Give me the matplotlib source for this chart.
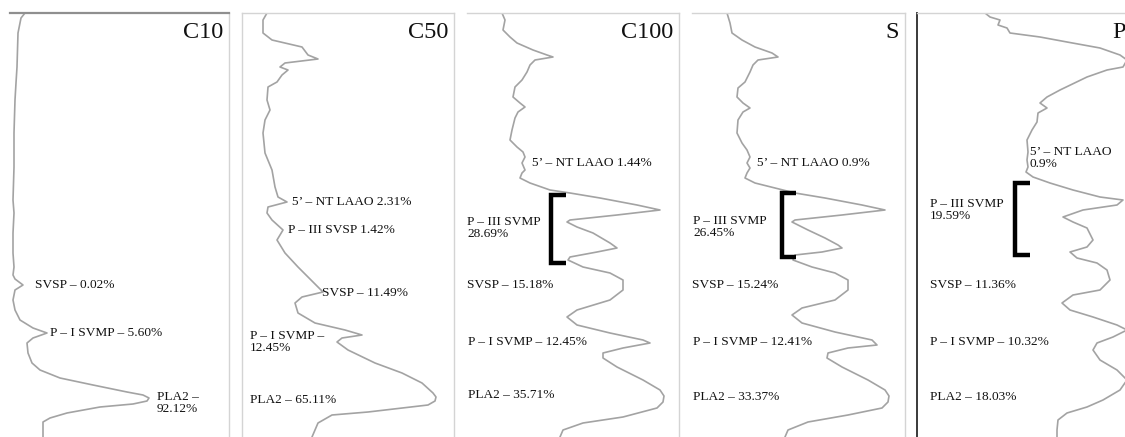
import matplotlib
matplotlib.use('Agg')
import matplotlib.pyplot as plt

plt.rcParams['font.family'] = ['Liberation Serif', 'DejaVu Serif']

# densitometry traces: intensity (px from lane edge) vs migration (px from top)
c10_intensity = [15, 11, 8, 7, 6, 5, 4, 4, 3, 4, 3, 3, 4, 3, 5, 13, 5, 3, 5, 10, 23, 37, 23, 17, 18, 22,
                 30, 50, 83, 117, 133, 139, 137, 123, 90, 57, 40, 33, 33]
c10_migration = [0, 5, 20, 54, 70, 87, 120, 154, 187, 200, 220, 240, 254, 262, 266, 272, 277, 287, 297, 307,
                 315, 320, 325, 330, 340, 350, 357, 365, 372, 379, 382, 385, 388, 391, 394, 400, 405, 409, 424]

c50_intensity = [25, 21, 21, 30, 60, 66, 76, 43, 38, 46, 40, 35, 26, 25, 28, 23, 21, 23, 30, 33, 36, 45, 26,
                 25, 30, 41, 35, 43, 56, 66, 76, 81, 60, 53, 56, 73, 103, 120, 100, 95, 106, 133, 160, 180,
                 191, 194, 193, 186, 126, 90, 76, 70]
c50_migration = [0, 7, 20, 27, 34, 42, 46, 50, 54, 57, 62, 69, 74, 87, 97, 107, 120, 140, 157, 174, 184, 189,
                 194, 200, 207, 217, 227, 240, 254, 264, 274, 279, 284, 290, 300, 310, 317, 322, 325, 329,
                 337, 350, 360, 370, 380, 384, 388, 392, 399, 402, 410, 424]

c100_intensity = [35, 38, 36, 43, 50, 66, 80, 86, 68, 63, 60, 55, 48, 46, 53, 58, 51, 48, 45, 43, 50, 56, 58,
                  55, 58, 55, 53, 63, 83, 103, 133, 170, 193, 150, 103, 100, 110, 126, 143, 150, 130, 103,
                  101, 116, 143, 156, 156, 143, 110, 100, 110, 143, 176, 183, 156, 136, 136, 150, 176, 193,
                  197, 196, 190, 156, 116, 96, 93]
c100_migration = [0, 7, 17, 24, 30, 37, 42, 44, 47, 52, 59, 67, 74, 84, 90, 94, 99, 105, 117, 127, 134, 139,
                  144, 150, 157, 160, 165, 170, 177, 180, 185, 192, 197, 202, 207, 209, 214, 220, 230, 235,
                  239, 244, 247, 254, 260, 267, 277, 287, 297, 304, 312, 320, 327, 330, 335, 340, 345, 354,
                  367, 377, 383, 389, 395, 404, 410, 417, 424]

s_intensity = [35, 38, 40, 50, 63, 80, 86, 66, 61, 58, 53, 46, 45, 51, 58, 51, 46, 45, 50, 55, 58, 55, 58,
               55, 53, 63, 83, 103, 133, 170, 193, 150, 103, 100, 116, 133, 146, 150, 130, 103, 101, 120,
               143, 156, 156, 143, 110, 100, 110, 143, 180, 185, 156, 136, 135, 150, 176, 193, 197, 196,
               190, 156, 116, 96, 93]
s_migration = [0, 10, 20, 27, 34, 40, 44, 47, 52, 59, 69, 75, 84, 90, 95, 99, 107, 120, 130, 137, 144, 150,
               155, 160, 165, 170, 175, 180, 185, 192, 197, 202, 207, 209, 217, 225, 232, 235, 239, 242,
               247, 254, 260, 267, 277, 287, 295, 302, 310, 319, 327, 332, 335, 340, 345, 354, 367, 377,
               383, 389, 395, 402, 409, 417, 424]

p_intensity = [68, 73, 83, 81, 90, 93, 123, 150, 183, 203, 210, 206, 190, 170, 143, 130, 123, 130, 121, 120,
               115, 110, 111, 110, 111, 109, 116, 133, 156, 183, 206, 200, 166, 146, 156, 170, 176, 170,
               153, 160, 180, 190, 193, 183, 156, 145, 153, 176, 200, 210, 196, 180, 176, 183, 200, 210,
               203, 186, 170, 150, 141, 140, 140]
p_migration = [0, 4, 7, 12, 15, 20, 24, 29, 35, 42, 47, 54, 57, 64, 77, 84, 90, 95, 100, 109, 117, 127, 139,
               147, 154, 159, 164, 170, 177, 184, 187, 192, 197, 204, 209, 215, 227, 234, 239, 245, 250,
               257, 267, 277, 282, 290, 297, 304, 312, 317, 324, 330, 337, 347, 357, 367, 377, 387, 394,
               400, 407, 417, 424]

lanes = ['C10', 'C50', 'C100', 'S', 'P']

c10_labels = ['SVSP – 0.02%', 'P – I SVMP – 5.60%', 'PLA2 –\n92.12%']
c50_labels = ['5’ – NT LAAO 2.31%', 'P – III SVSP 1.42%', 'SVSP – 11.49%', 'P – I SVMP –\n12.45%',
              'PLA2 – 65.11%']
c100_labels = ['5’ – NT LAAO 1.44%', 'P – III SVMP\n28.69%', 'SVSP – 15.18%', 'P – I SVMP – 12.45%',
               'PLA2 – 35.71%']
s_labels = ['5’ – NT LAAO 0.9%', 'P – III SVMP\n26.45%', 'SVSP – 15.24%', 'P – I SVMP – 12.41%',
            'PLA2 – 33.37%']
p_labels = ['5’ – NT LAAO\n0.9%', 'P – III SVMP\n19.59%', 'SVSP – 11.36%', 'P – I SVMP – 10.32%',
            'PLA2 – 18.03%']

# layout (pixels in a 1125 x 437 canvas)
W, H, TOP = 1125, 437, 13
panel_x = [(10, 229), (242, 454), (467, 679), (692, 905), (917, 1125)]
label_pos = [
    [(25, 272), (40, 320), (147, 390)],
    [(50, 189), (46, 217), (80, 280), (8, 329), (8, 387)],
    [(65, 150), (0, 215), (0, 272), (1, 329), (1, 382)],
    [(65, 150), (1, 214), (0, 272), (1, 329), (1, 384)],
    [(113, 145), (13, 197), (13, 272), (13, 329), (13, 384)],
]
brackets = [None, None, (84, 182, 250, 99), (90, 180, 244, 104), (98, 170, 242, 113)]

traces = [(c10_intensity, c10_migration), (c50_intensity, c50_migration),
          (c100_intensity, c100_migration), (s_intensity, s_migration), (p_intensity, p_migration)]
labels = [c10_labels, c50_labels, c100_labels, s_labels, p_labels]

fig = plt.figure(figsize=(W / 100, H / 100), dpi=100)
fig.patch.set_facecolor('white')

for i, (x0, x1) in enumerate(panel_x):
    ax = fig.add_axes([x0 / W, 0, (x1 - x0) / W, (H - TOP) / H])
    ax.set_xlim(0, x1 - x0)
    ax.set_ylim(H - TOP, 0)
    ax.set_xticks([])
    ax.set_yticks([])
    for side in ['top', 'right', 'left', 'bottom']:
        ax.spines[side].set_color('#d4d4d4')
        ax.spines[side].set_linewidth(1.0)
    ax.spines['bottom'].set_visible(False)
    if i in (0, 2, 3):
        ax.spines['left'].set_visible(False)
    if i == 0:
        ax.spines['top'].set_color('#8f8f8f')
        ax.spines['top'].set_linewidth(1.6)
    if i == 4:
        ax.spines['right'].set_visible(False)
        ax.spines['left'].set_color('#3a3a3a')
        ax.spines['left'].set_linewidth(1.4)

    inten, mig = traces[i]
    ax.plot(inten, mig, color='#a3a3a3', lw=1.2, solid_joinstyle='round')

    for txt, (lx, ly) in zip(labels[i], label_pos[i]):
        ax.text(lx, ly, txt, fontsize=9.6, ha='left', va='center', color='#111111',
                linespacing=0.95)

    if i == 4:
        ax.text(195, 19, lanes[i], fontsize=17.5, ha='left', va='center', color='#111111')
    else:
        ax.text(x1 - x0 - 6, 19, lanes[i], fontsize=17.5, ha='right', va='center', color='#111111')

    if brackets[i]:
        bx, by0, by1, arm = brackets[i]
        ax.plot([arm, bx, bx, arm], [by0, by0, by1, by1], color='black', lw=3.2,
                solid_joinstyle='miter', solid_capstyle='butt')

fig.savefig('out.png', dpi=100, facecolor='white')
